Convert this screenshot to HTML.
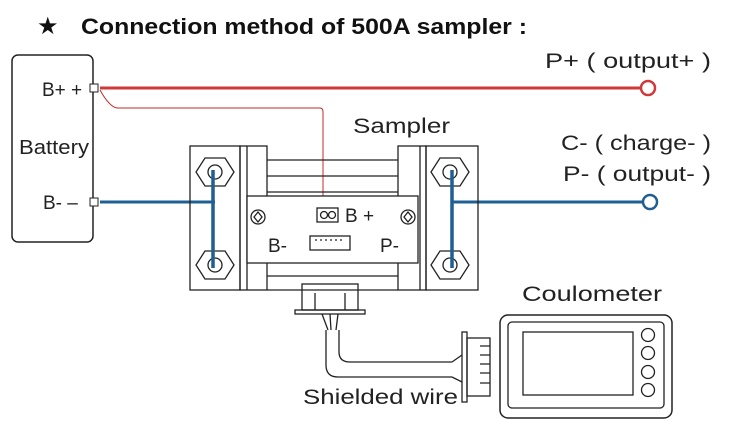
<!DOCTYPE html>
<html><head><meta charset="utf-8"><style>html,body{margin:0;padding:0;background:#fff}svg{display:block}</style></head><body>
<svg width="750" height="446" viewBox="0 0 750 446" xmlns="http://www.w3.org/2000/svg" font-family="Liberation Sans, DejaVu Sans, sans-serif">
<rect width="750" height="446" fill="#fff"/>
<text x="37" y="34" font-size="24" font-weight="bold" fill="#111">★</text>
<text x="81" y="34" font-size="22" font-weight="bold" fill="#111" textLength="446" lengthAdjust="spacingAndGlyphs">Connection method of 500A sampler :</text>
<!-- battery -->
<rect x="12" y="55" width="81" height="187" rx="6" fill="none" stroke="#222" stroke-width="1.5"/>
<text x="42" y="96" font-size="19" fill="#222">B+ +</text>
<text x="19" y="154" font-size="20" fill="#222" textLength="70" lengthAdjust="spacingAndGlyphs">Battery</text>
<text x="43" y="209" font-size="19" fill="#222">B-  –</text>
<!-- wires -->
<path d="M100 88 H642" stroke="#d0383a" stroke-width="3" fill="none"/>
<path d="M100 90 Q110 108 118 108 H320 Q323 108 323 112 V214" stroke="#c0282a" stroke-width="1" fill="none"/>
<circle cx="648" cy="88" r="7" fill="#fff" stroke="#d0383a" stroke-width="2.5"/>
<path d="M100 202 H215" stroke="#1f5f94" stroke-width="3" fill="none"/>
<path d="M452 202 H643" stroke="#1f5f94" stroke-width="3" fill="none"/>
<circle cx="650" cy="202" r="7" fill="#fff" stroke="#1f5f94" stroke-width="2.5"/>
<rect x="90" y="84" width="8" height="8" fill="#fff" stroke="#222"/>
<rect x="90" y="198" width="8" height="8" fill="#fff" stroke="#222"/>
<!-- sampler -->
<g fill="none" stroke="#222" stroke-width="1.3">
<rect x="190" y="146" width="50" height="144"/>
<rect x="240" y="146" width="27" height="144"/>
<line x1="247" y1="146" x2="247" y2="290"/>
<rect x="398" y="146" width="28" height="144"/>
<line x1="420" y1="146" x2="420" y2="290"/>
<rect x="426" y="146" width="52" height="144"/>
<line x1="267" y1="160" x2="398" y2="160"/>
<line x1="267" y1="176" x2="398" y2="176"/>
<line x1="267" y1="192" x2="398" y2="192"/>
<rect x="247" y="196" width="171" height="67" fill="#fff"/>
<line x1="267" y1="276" x2="398" y2="276"/>
<line x1="267" y1="290" x2="398" y2="290"/>
<polygon points="205,158 225,158 234,172 225,186 205,186 196,172"/>
<circle cx="215" cy="172" r="7"/>
<polygon points="205,251 225,251 234,265 225,279 205,279 196,265"/>
<circle cx="215" cy="265" r="7"/>
<polygon points="440,158 460,158 469,172 460,186 440,186 431,172"/>
<circle cx="450" cy="172" r="7"/>
<polygon points="440,251 460,251 469,265 460,279 440,279 431,265"/>
<circle cx="450" cy="265" r="7"/>
<circle cx="258" cy="217" r="7"/>
<path d="M258 212 L262 217 L258 222 L254 217 Z"/>
<circle cx="408" cy="217" r="7"/>
<path d="M408 212 L412 217 L408 222 L404 217 Z"/>
<rect x="317" y="208" width="21" height="14"/>
<circle cx="324" cy="215" r="3.5"/><circle cx="332" cy="215" r="3.5"/>
<rect x="310" y="236" width="40" height="14"/>
<line x1="315" y1="240" x2="345" y2="240" stroke-dasharray="2 3"/>
</g>
<path d="M213 170 V268 M452 170 V268" stroke="#1f5f94" stroke-width="3.5"/>
<text x="345" y="222" font-size="19" fill="#222">B +</text>
<text x="268" y="252" font-size="19" fill="#222">B-</text>
<text x="380" y="252" font-size="19" fill="#222">P-</text>
<text x="353" y="133" font-size="21" fill="#222" textLength="97" lengthAdjust="spacingAndGlyphs">Sampler</text>
<!-- output labels -->
<text x="545" y="68" font-size="21" fill="#222" textLength="166" lengthAdjust="spacingAndGlyphs">P+ ( output+ )</text>
<text x="561" y="150" font-size="21" fill="#222" textLength="150" lengthAdjust="spacingAndGlyphs">C- ( charge- )</text>
<text x="563" y="181" font-size="21" fill="#222" textLength="148" lengthAdjust="spacingAndGlyphs">P- ( output- )</text>
<!-- bottom plug + cable -->
<g fill="none" stroke="#222" stroke-width="1.3">
<rect x="302" y="284" width="56" height="26"/>
<rect x="295" y="310" width="70" height="4"/>
<line x1="315" y1="293" x2="315" y2="310"/><line x1="345" y1="293" x2="345" y2="310"/>
<path d="M322 314 L328 330 M330 314 L331 330 M338 314 L336 330"/>
<path d="M326 330 V365 Q326 377 338 377 H452 M339 330 V352 Q339 362 350 362 H452"/>
<path d="M452 362 L462 355 M452 377 L462 382"/>
<rect x="462" y="332" width="5" height="70"/>
<rect x="467" y="338" width="23" height="58"/>
<path d="M480 346 H490 M480 355 H490 M480 364 H490 M480 373 H490 M480 383 H490"/>
<rect x="500" y="315" width="172" height="103" rx="8" stroke-width="1.5"/>
<rect x="508" y="322" width="156" height="86" rx="4"/>
<rect x="523" y="332" width="110" height="63"/>
<circle cx="648" cy="335" r="6.5"/><circle cx="648" cy="353" r="6.5"/><circle cx="648" cy="372" r="6.5"/><circle cx="648" cy="390" r="6.5"/>
</g>
<text x="522" y="301" font-size="21" fill="#222" textLength="140" lengthAdjust="spacingAndGlyphs">Coulometer</text>
<text x="303" y="404" font-size="21" fill="#222" textLength="155" lengthAdjust="spacingAndGlyphs">Shielded wire</text>
</svg>
</body></html>
